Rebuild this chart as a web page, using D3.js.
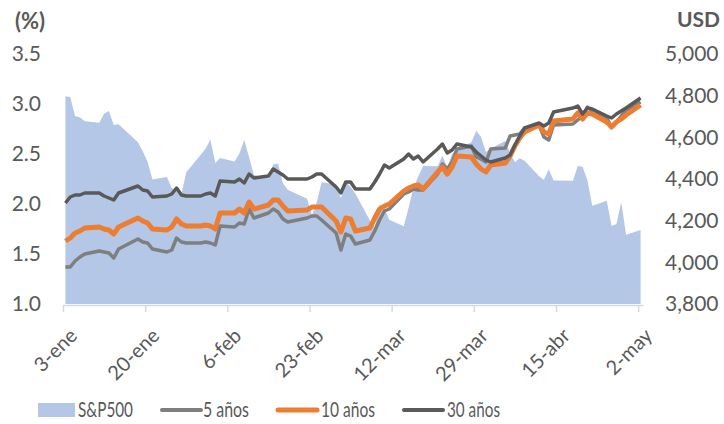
<!DOCTYPE html>
<html>
<head>
<meta charset="utf-8">
<script src="https://cdn.jsdelivr.net/npm/d3@7"></script>
<style>
    body { margin: 0; background: #fff; }
    svg { display: block; font-family: Lato, "Open Sans", sans-serif; }
</style>
</head>
<body>
<div id="chart"></div>
<script>
// trading days, 2022
var dates = [
    '2022-01-03','2022-01-04','2022-01-05','2022-01-06','2022-01-07','2022-01-10','2022-01-11','2022-01-12','2022-01-13','2022-01-14',
    '2022-01-18','2022-01-19','2022-01-20','2022-01-21','2022-01-24','2022-01-25','2022-01-26','2022-01-27','2022-01-28','2022-01-31',
    '2022-02-01','2022-02-02','2022-02-03','2022-02-04','2022-02-07','2022-02-08','2022-02-09','2022-02-10','2022-02-11','2022-02-14',
    '2022-02-15','2022-02-16','2022-02-17','2022-02-18','2022-02-22','2022-02-23','2022-02-24','2022-02-25','2022-02-28',
    '2022-03-01','2022-03-02','2022-03-03','2022-03-04','2022-03-07','2022-03-08','2022-03-09','2022-03-10','2022-03-11','2022-03-14',
    '2022-03-15','2022-03-16','2022-03-17','2022-03-18','2022-03-21','2022-03-22','2022-03-23','2022-03-24','2022-03-25','2022-03-28',
    '2022-03-29','2022-03-30','2022-03-31',
    '2022-04-01','2022-04-04','2022-04-05','2022-04-06','2022-04-07','2022-04-08','2022-04-11','2022-04-12','2022-04-13','2022-04-14',
    '2022-04-18','2022-04-19','2022-04-20','2022-04-21','2022-04-22','2022-04-25','2022-04-26','2022-04-27','2022-04-28','2022-04-29',
    '2022-05-02'
];

var sp500 = [
    4797, 4794, 4701, 4696, 4677, 4670, 4713, 4726, 4659, 4663,
    4577, 4533, 4483, 4398, 4410, 4356, 4350, 4327, 4432, 4516,
    4547, 4589, 4477, 4501, 4484, 4522, 4587, 4504, 4419, 4402,
    4471, 4475, 4380, 4349, 4305, 4226, 4289, 4385, 4374,
    4306, 4387, 4363, 4329, 4201, 4171, 4278, 4260, 4204, 4173,
    4262, 4358, 4412, 4463, 4461, 4512, 4456, 4520, 4543, 4576,
    4632, 4602, 4530,
    4546, 4583, 4525, 4481, 4500, 4488, 4413, 4397, 4447, 4393,
    4392, 4462, 4459, 4394, 4272, 4296, 4175, 4184, 4288, 4132,
    4155
];

var yield5 = [
    1.37, 1.37, 1.43, 1.47, 1.50, 1.53, 1.52, 1.51, 1.46, 1.55,
    1.65, 1.62, 1.61, 1.55, 1.52, 1.54, 1.66, 1.62, 1.61, 1.61,
    1.62, 1.61, 1.59, 1.78, 1.77, 1.81, 1.80, 1.95, 1.86, 1.91,
    1.95, 1.92, 1.85, 1.82, 1.86, 1.88, 1.88, 1.84, 1.71,
    1.54, 1.70, 1.68, 1.60, 1.64, 1.73, 1.84, 1.93, 1.95, 2.10,
    2.12, 2.15, 2.14, 2.14, 2.30, 2.40, 2.35, 2.42, 2.55, 2.58,
    2.47, 2.45, 2.42,
    2.55, 2.56, 2.68, 2.69, 2.70, 2.76, 2.79, 2.67, 2.64, 2.79,
    2.80, 2.84, 2.88, 2.97, 2.93, 2.86, 2.77, 2.82, 2.88, 2.94,
    3.02
];

var yield10 = [
    1.63, 1.66, 1.71, 1.73, 1.76, 1.77, 1.75, 1.74, 1.70, 1.77,
    1.86, 1.83, 1.81, 1.75, 1.74, 1.77, 1.85, 1.80, 1.78, 1.78,
    1.79, 1.78, 1.75, 1.91, 1.91, 1.95, 1.91, 2.02, 1.95, 1.99,
    2.04, 2.04, 1.98, 1.93, 1.94, 1.97, 1.97, 1.97, 1.83,
    1.72, 1.86, 1.85, 1.73, 1.76, 1.86, 1.95, 1.98, 2.00, 2.13,
    2.16, 2.18, 2.19, 2.15, 2.32, 2.37, 2.30, 2.37, 2.48, 2.47,
    2.40, 2.35, 2.32,
    2.39, 2.41, 2.48, 2.58, 2.66, 2.72, 2.79, 2.72, 2.70, 2.83,
    2.85, 2.91, 2.85, 2.91, 2.90, 2.82, 2.77, 2.82, 2.85, 2.89,
    2.99
];

var yield30 = [
    2.01, 2.07, 2.09, 2.09, 2.11, 2.11, 2.08, 2.06, 2.04, 2.11,
    2.18, 2.14, 2.13, 2.07, 2.08, 2.10, 2.16, 2.09, 2.08, 2.08,
    2.10, 2.11, 2.08, 2.23, 2.22, 2.25, 2.21, 2.30, 2.26, 2.28,
    2.35, 2.32, 2.29, 2.25, 2.25, 2.27, 2.30, 2.30, 2.17,
    2.11, 2.22, 2.22, 2.15, 2.15, 2.22, 2.30, 2.39, 2.36, 2.45,
    2.50, 2.45, 2.48, 2.42, 2.55, 2.60, 2.51, 2.54, 2.60, 2.57,
    2.52, 2.48, 2.44,
    2.42, 2.46, 2.49, 2.59, 2.68, 2.76, 2.81, 2.78, 2.81, 2.92,
    2.96, 2.98, 2.90, 2.96, 2.95, 2.88, 2.86, 2.90, 2.93, 2.96,
    3.06
];

var tickDates = ['2022-01-03','2022-01-20','2022-02-06','2022-02-23','2022-03-12','2022-03-29','2022-04-15','2022-05-02'];
var tickLabels = ['3-ene','20-ene','6-feb','23-feb','12-mar','29-mar','15-abr','2-may'];
var leftTicks = [1.0, 1.5, 2.0, 2.5, 3.0, 3.5];
var rightTicks = [3800, 4000, 4200, 4400, 4600, 4800, 5000];

var seriesNames = ['S&P500', '5 años', '10 años', '30 años'];
var seriesColors = ['#b4c7e7', '#7f7f7f', '#ed7d31', '#595959'];

var width = 724, height = 424;
var textColor = '#595959';
var parseDate = d3.timeParse('%Y-%m-%d');

var svg = d3.select('#chart')
    .append('svg')
    .attr('width', width)
    .attr('height', height);

// date axis, each day is a slot; points sit mid-slot like excel
var x = d3.scaleTime()
    .domain([parseDate('2022-01-03'), parseDate('2022-05-03')])
    .range([63, 643]);
var yL = d3.scaleLinear().domain([1.0, 3.5]).range([304, 54]);
var yR = d3.scaleLinear().domain([3800, 5000]).range([304, 54]);

var points = dates.map(function(d, i) {
    return {
        date: d3.timeHour.offset(parseDate(d), 12),
        sp: sp500[i],
        y5: yield5[i],
        y10: yield10[i],
        y30: yield30[i]
    };
});

var area = d3.area()
    .x(function(d) { return x(d.date); })
    .y0(yR(3800))
    .y1(function(d) { return yR(d.sp); });

svg.append('path')
    .datum(points)
    .attr('d', area)
    .attr('fill', seriesColors[0]);

var lines = [
    { key: 'y5', color: seriesColors[1], w: 3.5 },
    { key: 'y10', color: seriesColors[2], w: 5 },
    { key: 'y30', color: seriesColors[3], w: 3.5 }
];

lines.forEach(function(s) {
    var line = d3.line()
        .x(function(d) { return x(d.date); })
        .y(function(d) { return yL(d[s.key]); });
    svg.append('path')
        .datum(points)
        .attr('d', line)
        .attr('fill', 'none')
        .attr('stroke', s.color)
        .attr('stroke-width', s.w)
        .attr('stroke-linejoin', 'round');
});

// x axis
var xAxis = svg.append('g')
    .attr('transform', 'translate(0,305)')
    .call(d3.axisBottom(x)
        .tickValues(tickDates.map(parseDate))
        .tickFormat(function(d, i) { return tickLabels[i]; })
        .tickSize(7)
        .tickSizeOuter(0));
xAxis.select('.domain').attr('stroke', '#d9d9d9').attr('stroke-width', 1.5);
xAxis.selectAll('.tick line').attr('stroke', '#d9d9d9').attr('stroke-width', 1.5);
xAxis.selectAll('.tick text')
    .attr('fill', textColor)
    .attr('font-size', 20)
    .attr('font-family', 'Lato, sans-serif')
    .attr('text-anchor', 'end')
    .attr('x', 0)
    .attr('y', 0)
    .attr('dy', '0.35em')
    .attr('transform', 'translate(10,27) rotate(-45)');

// left axis
var leftAxis = svg.append('g')
    .attr('transform', 'translate(41,0)')
    .call(d3.axisLeft(yL)
        .tickValues(leftTicks)
        .tickFormat(d3.format('.1f'))
        .tickSize(0)
        .tickPadding(0));
leftAxis.select('.domain').remove();
leftAxis.selectAll('text')
    .attr('fill', textColor)
    .attr('font-size', 21)
    .attr('font-family', 'Lato, sans-serif');

// right axis
var rightAxis = svg.append('g')
    .attr('transform', 'translate(665,0)')
    .call(d3.axisRight(yR)
        .tickValues(rightTicks)
        .tickFormat(d3.format(','))
        .tickSize(0)
        .tickPadding(0));
rightAxis.select('.domain').remove();
rightAxis.selectAll('text')
    .attr('fill', textColor)
    .attr('font-size', 21)
    .attr('font-family', 'Lato, sans-serif');

// axis titles
svg.append('text')
    .attr('x', 15)
    .attr('y', 29)
    .attr('fill', textColor)
    .attr('font-size', 22)
    .attr('font-weight', 'bold')
    .text('(%)');

svg.append('text')
    .attr('x', 720)
    .attr('y', 27)
    .attr('text-anchor', 'end')
    .attr('fill', textColor)
    .attr('font-size', 21)
    .attr('font-weight', 'bold')
    .text('USD');

// legend
var legendItems = [
    { sx: 38, tx: 78, tl: 55, type: 'area', w: 0 },
    { sx: 162, tx: 203, tl: 46, type: 'line', w: 4 },
    { sx: 278, tx: 321, tl: 54, type: 'line', w: 5 },
    { sx: 404, tx: 447, tl: 53, type: 'line', w: 4 }
];

var legend = svg.append('g');
legendItems.forEach(function(it, i) {
    if (it.type === 'area') {
        legend.append('rect')
            .attr('x', it.sx).attr('y', 403)
            .attr('width', 37).attr('height', 14)
            .attr('fill', seriesColors[i]);
    } else {
        legend.append('line')
            .attr('x1', it.sx).attr('x2', it.sx + 39)
            .attr('y1', 410).attr('y2', 410)
            .attr('stroke', seriesColors[i])
            .attr('stroke-width', it.w)
            .attr('stroke-linecap', 'round');
    }
    legend.append('text')
        .attr('x', it.tx)
        .attr('y', 417)
        .attr('fill', textColor)
        .attr('font-size', 21)
        .attr('textLength', it.tl)
        .attr('lengthAdjust', 'spacingAndGlyphs')
        .text(seriesNames[i]);
});
</script>
</body>
</html>
